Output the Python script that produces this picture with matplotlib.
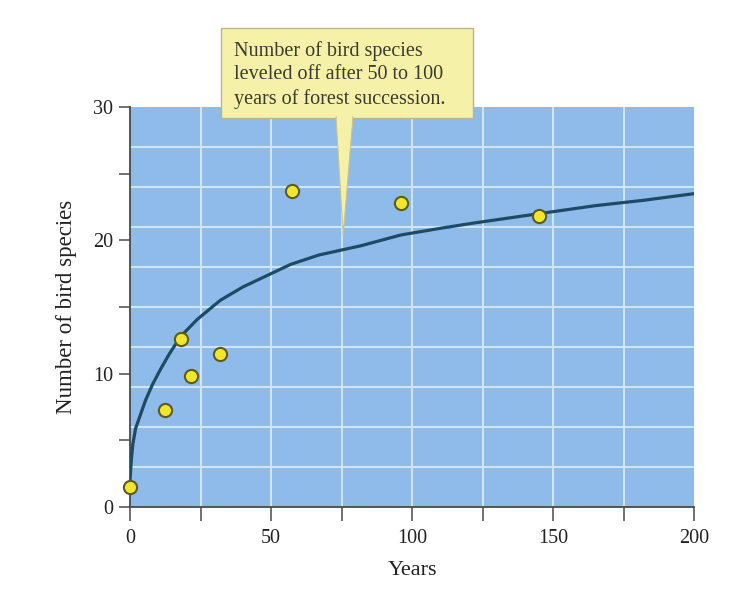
import matplotlib
matplotlib.use("Agg")
import matplotlib.pyplot as plt
from matplotlib.patches import Polygon, Rectangle

# ---- data ----
years = [0, 12.5, 18, 21.5, 32, 57.5, 96, 145]
species = [1.5, 7.3, 12.6, 9.8, 11.5, 23.7, 22.8, 21.8]

curve_x = [0, 0.5, 1, 2, 3.5, 5.5, 8, 11, 14, 18, 24, 32, 40, 48, 57, 67, 82, 96, 110, 122, 145, 165, 182, 200]
curve_y = [2.0, 3.6, 4.7, 5.9, 6.8, 8.0, 9.2, 10.4, 11.5, 12.8, 14.1, 15.5, 16.5, 17.3, 18.2, 18.9, 19.6, 20.4, 20.9, 21.3, 22.0, 22.6, 23.0, 23.5]

x_ticks = [0, 25, 50, 75, 100, 125, 150, 175, 200]
x_tick_labels = ["0", "", "50", "", "100", "", "150", "", "200"]
y_ticks = [0, 5, 10, 15, 20, 25, 30]
y_tick_labels = ["0", "", "10", "", "20", "", "30"]
h_grid = [3, 6, 9, 12, 15, 18, 21, 24, 27]
v_grid = [25, 50, 75, 100, 125, 150, 175]

callout_text = "Number of bird species\nleveled off after 50 to 100\nyears of forest succession."
callout_tip = (75.6, 20.4)

plt.rcParams['font.family'] = ['Liberation Serif', 'DejaVu Serif']

W, H = 733, 591
fig = plt.figure(figsize=(W / 100, H / 100), dpi=100)
ax = fig.add_axes([130 / W, 1 - 507 / H, (694 - 130) / W, (507 - 107) / H])
ax.set_xlim(0, 200)
ax.set_ylim(0, 30)
ax.set_facecolor("#8EBBE9")

for g in h_grid:
    ax.axhline(g, color="#CFE6F8", lw=1.5, zorder=1)
for g in v_grid:
    ax.axvline(g, color="#CFE6F8", lw=1.5, zorder=1)

ax.plot(curve_x, curve_y, color="#1E4A66", lw=2.3, zorder=3, solid_capstyle="round")
ax.plot(years, species, linestyle="none", marker="o", markersize=9.5,
        markerfacecolor="#F1E62A", markeredgecolor="#5B5A22", markeredgewidth=1.5,
        zorder=4, clip_on=False)

for side in ["top", "right"]:
    ax.spines[side].set_visible(False)
for side in ["left", "bottom"]:
    ax.spines[side].set_color("#4A4A4A")
    ax.spines[side].set_linewidth(1.3)

ax.set_xticks(x_ticks)
ax.set_xticklabels(x_tick_labels)
ax.set_yticks(y_ticks)
ax.set_yticklabels(y_tick_labels)
ax.tick_params(axis="both", direction="out", length=8, width=1.1, color="#4A4A4A",
               labelsize=14.5, labelcolor="#222222")
ax.tick_params(axis="x", pad=6, length=10)
ax.tick_params(axis="y", pad=4)

ax.set_xlabel("Years", fontsize=16, color="#222222", labelpad=9)
ax.set_ylabel("Number of bird species", fontsize=16.5, color="#222222", labelpad=12)

# ---- callout ----
box_fc = "#F6F1A8"
bx0, bx1, by0, by1 = 221, 473, 28, 118
fig.patches.append(Rectangle((bx0 / W, 1 - by1 / H), (bx1 - bx0) / W, (by1 - by0) / H,
                             transform=fig.transFigure, facecolor=box_fc,
                             edgecolor="#B9B58C", lw=1.0, zorder=5))
tip_disp = ax.transData.transform(callout_tip)
tip_fig = fig.transFigure.inverted().transform(tip_disp)
ptr = Polygon([(336 / W, 1 - 117 / H), (353 / W, 1 - 117 / H), tuple(tip_fig)],
              closed=True, transform=fig.transFigure, facecolor=box_fc,
              edgecolor="#C9C48E", lw=0.8, zorder=6)
fig.patches.append(ptr)
fig.patches.append(Rectangle((337 / W, 1 - 119.5 / H), 15 / W, 3 / H,
                             transform=fig.transFigure, facecolor=box_fc,
                             edgecolor="none", zorder=7))
fig.text(234 / W, 1 - 75 / H, callout_text, ha="left", va="center", fontsize=14.5,
         color="#3A3A30", linespacing=1.3, zorder=8)

fig.savefig("out.png", dpi=100, facecolor="white")
